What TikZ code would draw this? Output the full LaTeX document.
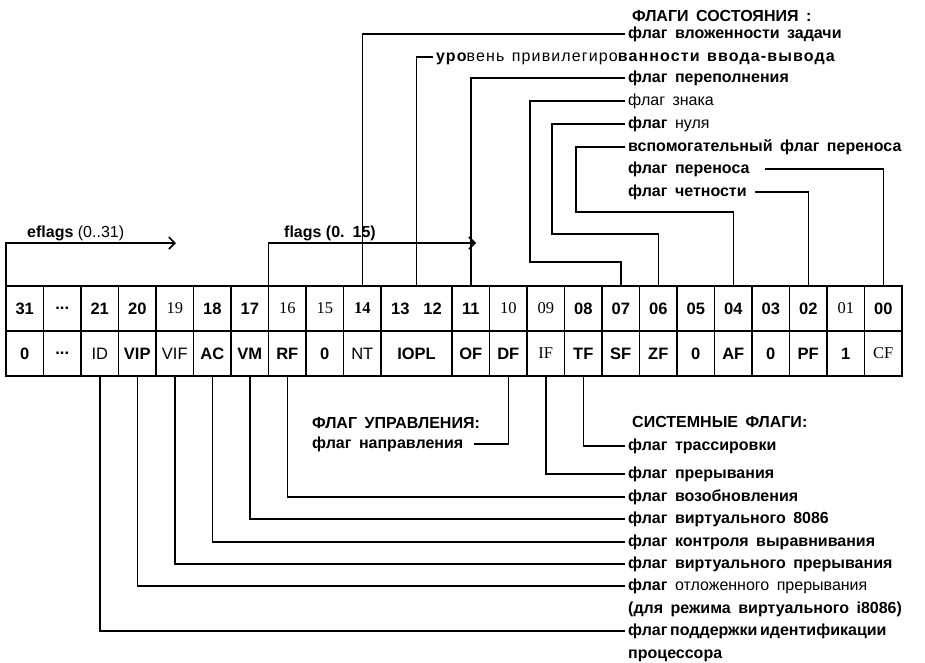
\documentclass[tikz,border=0pt]{standalone}
\usepackage{fontspec}
\setmainfont{Liberation Serif}
\setsansfont{Liberation Sans}
\usetikzlibrary{positioning,arrows.meta}

\newcommand{\lblsize}{\fontsize{16}{19}\selectfont}
\newcommand{\bitsize}{\fontsize{16.5}{19}\selectfont}
\newcommand{\widesp}{\spaceskip=7.5pt plus 1pt\relax}

\tikzset{
  bitbox/.style={draw, rectangle, minimum width=37.5pt, minimum height=45pt, inner sep=0pt, outer sep=0pt, line width=1.6pt, font=\sffamily\bfseries\bitsize},
  serifbit/.style={font=\rmfamily\mdseries\bitsize},
  thinbit/.style={font=\sffamily\mdseries\bitsize},
  lbl/.style={anchor=west, inner xsep=3pt, inner ysep=0pt, text height=11pt, text depth=3pt, font=\sffamily\bfseries\lblsize\widesp},
  thinlbl/.style={lbl, font=\sffamily\mdseries\lblsize\widesp},
  conn/.style={line width=1.5pt},
  flagarrow/.style={conn, -{Straight Barb[length=6pt, width=12pt, line width=1.6pt]}}
}

\begin{document}
\begin{tikzpicture}[x=1pt, y=-1pt, node distance=0pt and 0pt]
  \useasboundingbox (0,0) rectangle (925,662);

  % bit numbers
  \node[bitbox, anchor=north west] (b31) at (6,286) {31};
  \node[bitbox, right=of b31] (bdots) {...};
  \node[bitbox, right=of bdots] (b21) {21};
  \node[bitbox, right=of b21] (b20) {20};
  \node[bitbox, serifbit, right=of b20] (b19) {19};
  \node[bitbox, right=of b19] (b18) {18};
  \node[bitbox, right=of b18] (b17) {17};
  \node[bitbox, serifbit, right=of b17] (b16) {16};
  \node[bitbox, serifbit, right=of b16] (b15) {15};
  \node[bitbox, font=\rmfamily\bfseries\bitsize, right=of b15] (b14) {14};
  \node[bitbox, minimum width=71pt, right=of b14] (b13) {13\hspace{14pt}12};
  \node[bitbox, right=of b13] (b11) {11};
  \node[bitbox, serifbit, right=of b11] (b10) {10};
  \node[bitbox, serifbit, right=of b10] (b09) {09};
  \node[bitbox, right=of b09] (b08) {08};
  \node[bitbox, right=of b08] (b07) {07};
  \node[bitbox, right=of b07] (b06) {06};
  \node[bitbox, right=of b06] (b05) {05};
  \node[bitbox, right=of b05] (b04) {04};
  \node[bitbox, right=of b04] (b03) {03};
  \node[bitbox, right=of b03] (b02) {02};
  \node[bitbox, serifbit, right=of b02] (b01) {01};
  \node[bitbox, right=of b01] (b00) {00};

  % flags
  \node[bitbox, below=of b31] (zero31) {0};
  \node[bitbox, below=of bdots] (dots) {...};
  \node[bitbox, thinbit, below=of b21] (ID) {ID};
  \node[bitbox, below=of b20] (VIP) {VIP};
  \node[bitbox, thinbit, below=of b19] (VIF) {VIF};
  \node[bitbox, below=of b18] (AC) {AC};
  \node[bitbox, below=of b17] (VM) {VM};
  \node[bitbox, below=of b16] (RF) {RF};
  \node[bitbox, below=of b15] (zero15) {0};
  \node[bitbox, thinbit, below=of b14] (NT) {NT};
  \node[bitbox, minimum width=71pt, below=of b13] (IOPL) {IOPL};
  \node[bitbox, below=of b11] (OF) {OF};
  \node[bitbox, below=of b10] (DF) {DF};
  \node[bitbox, serifbit, below=of b09] (IF) {IF};
  \node[bitbox, below=of b08] (TF) {TF};
  \node[bitbox, below=of b07] (SF) {SF};
  \node[bitbox, below=of b06] (ZF) {ZF};
  \node[bitbox, below=of b05] (zero05) {0};
  \node[bitbox, below=of b04] (AF) {AF};
  \node[bitbox, below=of b03] (zero03) {0};
  \node[bitbox, below=of b02] (PF) {PF};
  \node[bitbox, below=of b01] (one01) {1};
  \node[bitbox, serifbit, below=of b00] (CF) {CF};

  % eflags / flags
  \coordinate (eflagsend) at (176,243);
  \coordinate (flagsend) at (476,243);
  \node[font=\sffamily\lblsize, anchor=base west, inner sep=0pt] (eflagslbl) at (27,237) {\textbf{eflags} (0..31)};
  \node[font=\sffamily\bfseries\lblsize, anchor=base west, inner sep=0pt] (flagslbl) at (284,237) {flags (0.\hspace{8pt}15)};
  \draw[flagarrow] (b31.north west) |- (eflagsend);
  \draw[flagarrow] (b16.north west) |- (flagsend);

  % status flags
  \node[lbl, anchor=base west, inner sep=0pt] (sost) at (632,21) {ФЛАГИ СОСТОЯНИЯ :};
  \node[lbl] (vlozh) at (625,34) {флаг вложенности задачи};
  \node[lbl, font=\sffamily\bfseries\lblsize\addfontfeatures{LetterSpace=7}\widesp] (urov) at (433,57) {уро{\mdseries вень привилегиро}ванности ввода-вывода};
  \node[lbl] (perepoln) at (625,78) {флаг переполнения};
  \node[thinlbl] (znak) at (625,101) {флаг знака};
  \node[lbl] (nul) at (625,124) {флаг {\mdseries нуля}};
  \node[lbl] (vspom) at (625,147) {вспомогательный флаг переноса};
  \node[lbl] (perenos) at (625,169) {флаг переноса};
  \node[lbl] (chetn) at (625,192) {флаг четности};

  \draw[conn] (b14.north) |- (vlozh.west);
  \draw[conn] (b13.north) |- (urov.west);
  \draw[conn] (b11.north) |- (perepoln.west);
  \draw[conn] (b07.north) |- (530,262) |- (znak.west);
  \draw[conn] (b06.north) |- (552,234) |- (nul.west);
  \draw[conn] (b04.north) |- (576,212) |- (vspom.west);
  \draw[conn, shorten >=12pt] (b00.north) |- (perenos.east);
  \draw[conn, shorten >=5pt] (b02.north) |- (chetn.east);

  % control flag
  \node[lbl] (upravl) at (309,424) {ФЛАГ УПРАВЛЕНИЯ:};
  \node[lbl] (napravl) at (309,444) {флаг направления};
  \draw[conn, shorten >=8pt] (DF.south) |- (napravl.east);

  % system flags
  \node[lbl] (sistem) at (629,423) {СИСТЕМНЫЕ ФЛАГИ:};
  \node[lbl] (trass) at (625,446) {флаг трассировки};
  \node[lbl] (prer) at (625,474) {флаг прерывания};
  \node[lbl] (vozobn) at (625,497) {флаг возобновления};
  \node[lbl] (virt86) at (625,519) {флаг виртуального 8086};
  \node[lbl] (kontr) at (625,542) {флаг контроля выравнивания};
  \node[lbl] (virtpr) at (625,564) {флаг виртуального прерывания};
  \node[lbl] (otlozh) at (625,586) {флаг {\mdseries отложенного прерывания}};
  \node[lbl] (otlozhb) at (625,609) {(для режима виртуального i8086)};
  \node[lbl] (podd) at (625,631) {флаг\,поддержки\,идентификации};
  \node[lbl] (poddb) at (625,654) {процессора};

  \draw[conn] (TF.south) |- (trass.west);
  \draw[conn] (IF.south) |- (prer.west);
  \draw[conn] (RF.south) |- (vozobn.west);
  \draw[conn] (VM.south) |- (virt86.west);
  \draw[conn] (AC.south) |- (kontr.west);
  \draw[conn] (VIF.south) |- (virtpr.west);
  \draw[conn] (VIP.south) |- (otlozh.west);
  \draw[conn] (ID.south) |- (podd.west);
\end{tikzpicture}
\end{document}
